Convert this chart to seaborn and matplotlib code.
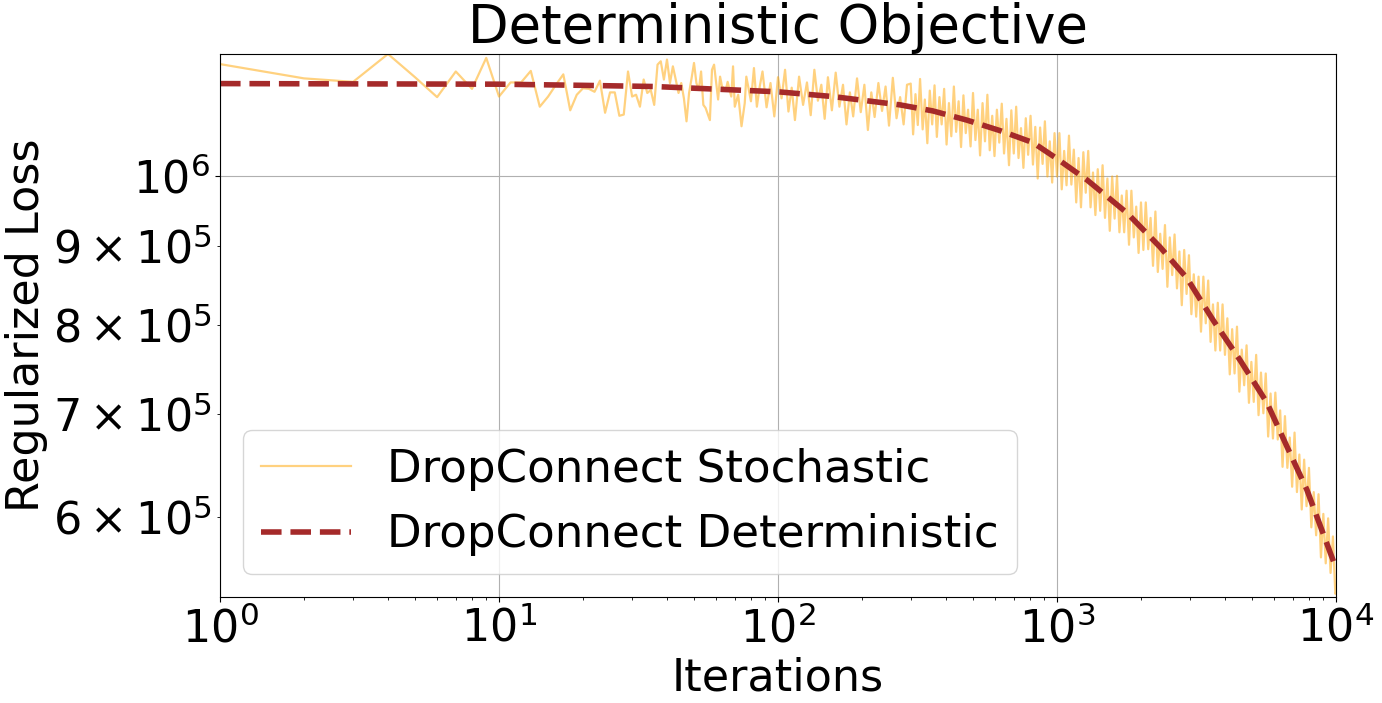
import numpy as np
import pandas as pd
import matplotlib
matplotlib.use("Agg")
import matplotlib.pyplot as plt
import seaborn as sns

# deterministic objective (loss in thousands)
det_iter = [1, 10, 20, 36, 100, 157, 274, 359, 475, 625, 820, 1000, 1280,
            1782, 2340, 2923, 3624, 4530, 5660, 6670, 7870, 8980, 10000]
det_loss_k = [1148, 1147, 1145, 1143, 1134, 1126, 1112, 1102, 1087, 1070, 1051, 1026, 994,
              946, 899, 858, 806, 759, 712, 667, 625, 586, 556]

# stochastic run: every iteration at the start, then a sampled trace of the noisy band
sto_iter = [1, 2, 3, 4, 5, 6, 7, 8, 9, 10, 11, 12, 13, 14, 15, 16, 17, 18, 19, 20,
            21, 22, 23, 24, 25, 26, 27, 28, 29, 30, 31, 32, 33, 34, 35, 36, 37, 38, 39, 40,
            41, 42, 43, 44, 45, 46, 47, 48, 49, 50, 51, 52, 53, 54, 55, 57, 58, 59, 61, 62,
            63, 65, 66, 68, 69, 70, 72, 74, 76, 77, 80, 82, 84, 86,
            88, 91, 94, 97, 100, 103, 106, 109, 112, 115, 119, 123, 127, 131, 135, 139, 143, 147,
            151, 156, 161, 166, 171, 176, 181, 186, 192, 198, 204, 210, 216, 222, 229, 236, 243,
            250, 258, 266, 274, 282, 290,
            299, 305, 311, 317, 323, 330, 336, 343, 350, 357,
            364, 371, 379, 386, 394, 402, 410, 418, 427, 435,
            444, 453, 462, 471, 480, 490, 500, 510, 520, 530,
            541, 552, 563, 574, 586, 597, 609, 621, 634, 646,
            659, 673, 686, 700, 714, 728, 743, 758, 773, 788,
            804, 820, 836, 853, 870, 888, 905, 924, 942, 961,
            980, 1000, 1020, 1040, 1061, 1082, 1104, 1126, 1149, 1172,
            1195, 1219, 1243, 1268, 1294, 1319, 1346, 1373, 1400, 1428,
            1457, 1486, 1516, 1546, 1577, 1609, 1641, 1674, 1707, 1741,
            1776, 1812, 1848, 1885, 1923, 1961, 2000, 2040, 2081, 2123,
            2165, 2209, 2253, 2298, 2344, 2391, 2438, 2487, 2537, 2588,
            2639, 2692, 2746, 2801, 2857, 2914, 2972, 3032, 3092, 3154,
            3217, 3282, 3347, 3414, 3483, 3552, 3623, 3696, 3770, 3845,
            3922, 4000, 4080, 4162, 4245, 4330, 4417, 4505, 4595, 4687,
            4781, 4876, 4974, 5073, 5175, 5278, 5384, 5492, 5601, 5713,
            5828, 5944, 6063, 6184, 6308, 6434, 6563, 6694, 6828, 6964,
            7104, 7246, 7391, 7538, 7689, 7843, 8000, 8160, 8323, 8489,
            8659, 8833, 9009, 9189, 9373, 9561, 9752, 9947, 10000]
sto_loss_k = [1182, 1157, 1151, 1200, 1159, 1125, 1169, 1139, 1193, 1126, 1150, 1150, 1170, 1109,
              1126, 1146, 1164, 1103, 1129, 1140, 1139, 1134, 1153, 1099, 1133, 1133, 1094,
              1096, 1169, 1126, 1129, 1109, 1155, 1132, 1137, 1112, 1181, 1187, 1155, 1190,
              1149, 1178, 1155, 1132, 1149, 1123, 1085, 1132, 1157, 1184, 1149, 1137, 1169, 1112,
              1107, 1087, 1172, 1181, 1121, 1160, 1143, 1137, 1151, 1126, 1178, 1109, 1129, 1077,
              1115, 1160, 1118, 1175, 1109, 1143,
              1169, 1108, 1149, 1093, 1159, 1123, 1172, 1101, 1141, 1087, 1160, 1112, 1150, 1095,
              1172, 1119, 1146, 1089, 1159, 1103, 1167, 1109, 1146, 1080, 1133, 1093, 1157, 1100,
              1146, 1071, 1133, 1092, 1149, 1102, 1143, 1078, 1158, 1090, 1125, 1080, 1146,
              1148, 1064, 1130, 1079, 1156, 1072, 1121, 1050, 1136, 1080,
              1145, 1060, 1125, 1080, 1139, 1048, 1115, 1061, 1143, 1068,
              1118, 1044, 1128, 1066, 1104, 1045, 1132, 1055, 1104, 1031,
              1115, 1053, 1129, 1039, 1094, 1030, 1104, 1051, 1114, 1034,
              1089, 1016, 1103, 1034, 1109, 1027, 1074, 1012, 1090, 1032,
              1094, 1017, 1076, 996, 1075, 1018, 1085, 999, 1053, 990,
              1066, 999, 1066, 980, 1038, 986, 1062, 987, 1040, 961,
              1027, 954, 1036, 975, 1038, 954, 1005, 943, 1010, 949,
              1016, 939, 996, 921, 999, 938, 1000, 919, 971, 919,
              978, 902, 978, 912, 955, 891, 961, 895, 961, 896,
              939, 874, 948, 866, 917, 870, 929, 847, 912, 862,
              916, 845, 893, 824, 895, 838, 888, 813, 863, 810,
              860, 792, 860, 802, 855, 780, 825, 770, 827, 770,
              825, 765, 808, 743, 795, 744, 798, 724, 771, 731,
              776, 712, 757, 713, 765, 699, 745, 701, 744, 677,
              722, 675, 723, 674, 704, 647, 698, 646, 676, 628,
              681, 623, 659, 607, 654, 610, 646, 591, 623, 584,
              621, 565, 603, 560, 599, 552, 583, 535, 536]

df_det = pd.DataFrame({"Iterations": det_iter, "Loss": np.array(det_loss_k) * 1000.0})
df_sto = pd.DataFrame({"Iterations": sto_iter, "Loss": np.array(sto_loss_k) * 1000.0})

fig, ax = plt.subplots(figsize=(13.82, 7.03), dpi=100)
fig.subplots_adjust(left=0.1592, right=0.9667, top=0.9232, bottom=0.1508)

sns.lineplot(data=df_sto, x="Iterations", y="Loss", color="orange", alpha=0.5,
             linewidth=1.6, estimator=None, label="DropConnect Stochastic", ax=ax)
sns.lineplot(data=df_det, x="Iterations", y="Loss", color="brown", linestyle="--",
             linewidth=4, estimator=None, label="DropConnect Deterministic", ax=ax)

ax.set_xscale("log")
ax.set_yscale("log")
ax.set_xlim(1, 1e4)
ax.set_ylim(5.325e5, 1.2e6)
ax.grid(True)
ax.set_title("Deterministic Objective", fontsize=38)
ax.set_xlabel("Iterations", fontsize=32)
ax.set_ylabel("Regularized Loss", fontsize=32)
ax.tick_params(axis="both", which="both", labelsize=32)
ax.legend(loc="lower left", fontsize=32.5)

fig.savefig("out.png", dpi=100)
